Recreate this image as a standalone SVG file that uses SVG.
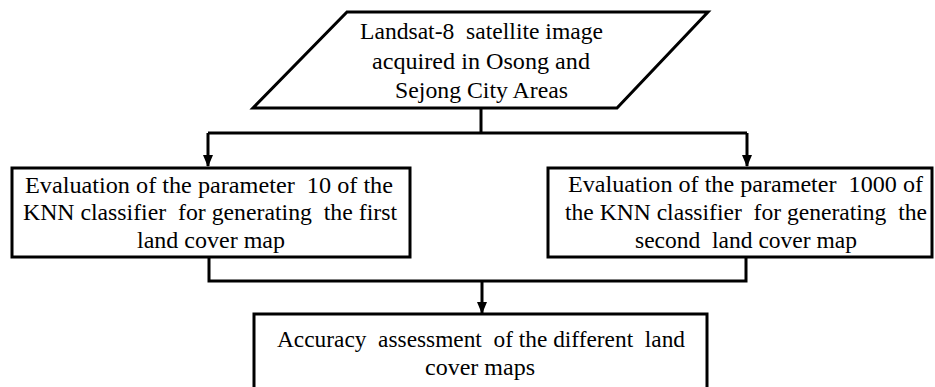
<svg xmlns="http://www.w3.org/2000/svg" width="935" height="387" viewBox="0 0 935 387">
  <defs>
    <marker id="arrow" markerWidth="12" markerHeight="10" refX="11" refY="5" orient="auto" markerUnits="userSpaceOnUse" viewBox="0 0 12 10">
      <path d="M0,0 L12,5 L0,10 Z" fill="#000"/>
    </marker>
  </defs>
  <style>
    .shape { fill: #fff; stroke: #000; stroke-width: 3; }
    .label { font-family: "Liberation Serif", "Times New Roman", serif; font-size: 23px; fill: #000; text-anchor: middle; white-space: pre; }
    .wire { fill: none; stroke: #000; stroke-width: 3; }
  </style>
  <rect width="935" height="387" fill="#fff"/>

  <g id="input-image">
    <polygon class="shape" points="347,12 708,12 617,108 253,108"/>
    <text class="label" x="481.5" y="39" textLength="243" lengthAdjust="spacingAndGlyphs">Landsat-8  satellite image</text>
    <text class="label" x="481" y="69" textLength="218" lengthAdjust="spacingAndGlyphs">acquired in Osong and</text>
    <text class="label" x="481.5" y="98" textLength="173" lengthAdjust="spacingAndGlyphs">Sejong City Areas</text>
  </g>

  <g id="knn-10">
    <rect class="shape" x="12" y="168" width="398" height="89"/>
    <text class="label" x="209" y="193" textLength="368" lengthAdjust="spacingAndGlyphs">Evaluation of the parameter  10 of the</text>
    <text class="label" x="210" y="220" textLength="374" lengthAdjust="spacingAndGlyphs">KNN classifier  for generating  the first</text>
    <text class="label" x="211" y="248" textLength="148" lengthAdjust="spacingAndGlyphs">land cover map</text>
  </g>

  <g id="knn-1000">
    <rect class="shape" x="548" y="168" width="384" height="89"/>
    <text class="label" x="745.5" y="192" textLength="355" lengthAdjust="spacingAndGlyphs">Evaluation of the parameter  1000 of</text>
    <text class="label" x="746" y="220" textLength="362" lengthAdjust="spacingAndGlyphs">the KNN classifier  for generating  the</text>
    <text class="label" x="746" y="248" textLength="222" lengthAdjust="spacingAndGlyphs">second  land cover map</text>
  </g>

  <g id="accuracy">
    <rect class="shape" x="254" y="314" width="453" height="90"/>
    <text class="label" x="481" y="347" textLength="408" lengthAdjust="spacingAndGlyphs">Accuracy  assessment  of the different  land</text>
    <text class="label" x="480" y="375" textLength="110" lengthAdjust="spacingAndGlyphs">cover maps</text>
  </g>

  <g id="connectors">
    <!-- split from the input image to both classifiers -->
    <path class="wire" d="M481,108 V133"/>
    <path class="wire" d="M208,133 H747"/>
    <path class="wire" d="M208,133 V166" marker-end="url(#arrow)"/>
    <path class="wire" d="M747,133 V166" marker-end="url(#arrow)"/>
    <!-- merge of both maps into the assessment -->
    <path class="wire" d="M209,257 V281 H746 V257"/>
    <path class="wire" d="M482,281 V313" marker-end="url(#arrow)"/>
  </g>
</svg>
